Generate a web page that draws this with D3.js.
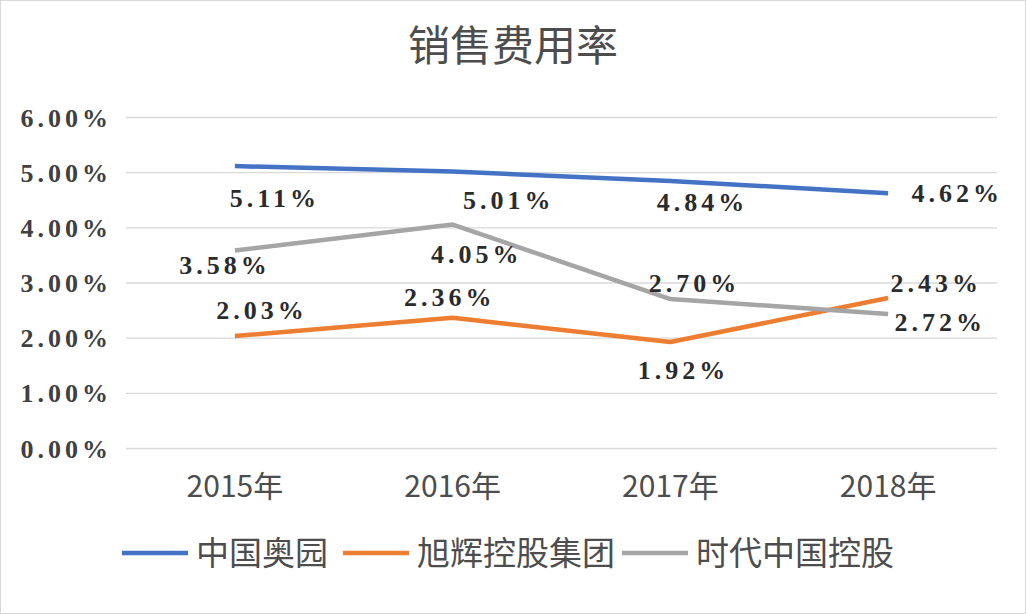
<!DOCTYPE html>
<html>
<head>
<meta charset="utf-8">
<script src="https://cdn.jsdelivr.net/npm/d3@7"></script>
<style>
    body { margin: 0; background: #fff; }
    svg text { font-family: "Liberation Serif", "DejaVu Serif", serif; }
</style>
</head>
<body>
<div id="chart"></div>
<script>
'use strict';

// chart values
const years = ["2015年", "2016年", "2017年", "2018年"];
const seriesNames = ["中国奥园", "旭辉控股集团", "时代中国控股"];
const aoyuan = [5.11, 5.01, 4.84, 4.62];
const cifi = [2.03, 2.36, 1.92, 2.72];
const times = [3.58, 4.05, 2.70, 2.43];
const yTicks = [0, 1, 2, 3, 4, 5, 6];

const colors = ["#4472C4", "#ED7D31", "#A5A5A5"];

// where each data label sits relative to its point (layout only)
const labelOffsets = [
    [[38, 32], [54, 28], [30, 21], [67, 0]],
    [[25, -26], [-5, -21], [11, 28], [50, 24]],
    [[-12, 14], [22, 29], [22, -16], [46, -31]]
];

const width = 1026, height = 614;
const margin = { top: 117, right: 29, bottom: 166, left: 126 };

const svg = d3.select("#chart")
    .append("svg")
    .attr("width", width)
    .attr("height", height);

svg.append("rect")
    .attr("x", 0.5).attr("y", 0.5)
    .attr("width", width - 1).attr("height", height - 1)
    .attr("fill", "#fff")
    .attr("stroke", "#d9d9d9");

// title
svg.append("text")
    .attr("x", 513)
    .attr("y", 61)
    .attr("text-anchor", "middle")
    .style("font-family", "'Noto Sans CJK SC', sans-serif")
    .style("font-size", "42px")
    .attr("fill", "#4d4d4d")
    .text("销售费用率");

const x = d3.scaleBand()
    .domain(years)
    .range([margin.left, width - margin.right]);

const y = d3.scaleLinear()
    .domain([0, 6])
    .range([height - margin.bottom, margin.top]);

// gridlines + y labels
const yAxis = svg.append("g")
    .attr("transform", "translate(" + margin.left + ",0)")
    .call(d3.axisLeft(y)
        .tickValues(yTicks)
        .tickSize(-(width - margin.left - margin.right))
        .tickPadding(14)
        .tickFormat(d => d3.format(".2f")(d) + "%"));

yAxis.select(".domain").remove();
yAxis.selectAll(".tick line").attr("stroke", "#d9d9d9").attr("stroke-width", 1.3);
yAxis.selectAll(".tick text")
    .attr("fill", "#404040")
    .style("font-size", "26px")
    .style("font-weight", "bold")
    .style("letter-spacing", "4px")
    .attr("dy", "0.35em");

// x labels
const xAxis = svg.append("g")
    .attr("transform", "translate(0," + (height - margin.bottom) + ")")
    .call(d3.axisBottom(x).tickSize(0).tickPadding(28));

xAxis.select(".domain").remove();
xAxis.selectAll(".tick text")
    .attr("fill", "#4d4d4d")
    .style("font-family", "'Noto Sans CJK SC', sans-serif")
    .style("font-size", "30px");

// lines
const allSeries = [aoyuan, cifi, times];
const line = d3.line()
    .x((d, i) => x(years[i]) + x.bandwidth() / 2)
    .y(d => y(d));

allSeries.forEach((values, s) => {
    svg.append("path")
        .datum(values)
        .attr("fill", "none")
        .attr("stroke", colors[s])
        .attr("stroke-width", 4.5)
        .attr("stroke-linejoin", "round")
        .attr("d", line);
});

// data labels
allSeries.forEach((values, s) => {
    svg.selectAll(".lbl" + s)
        .data(values)
        .enter()
        .append("text")
        .attr("class", "lbl" + s)
        .attr("x", (d, i) => x(years[i]) + x.bandwidth() / 2 + labelOffsets[s][i][0] + 2)
        .attr("y", (d, i) => y(d) + labelOffsets[s][i][1])
        .attr("dy", "0.35em")
        .attr("text-anchor", "middle")
        .attr("fill", "#2b2b2b")
        .style("font-size", "26px")
        .style("font-weight", "bold")
        .style("letter-spacing", "4px")
        .text(d => d3.format(".2f")(d) + "%");
});

// legend
const legendX = [122, 343, 622];
const legend = svg.append("g");
seriesNames.forEach((name, i) => {
    legend.append("line")
        .attr("x1", legendX[i]).attr("x2", legendX[i] + 66)
        .attr("y1", 553).attr("y2", 553)
        .attr("stroke", colors[i])
        .attr("stroke-width", 4.5);
    legend.append("text")
        .attr("x", legendX[i] + 74)
        .attr("y", 553)
        .attr("dy", "0.35em")
        .attr("fill", "#4d4d4d")
        .style("font-family", "'Noto Sans CJK SC', sans-serif")
        .style("font-size", "33px")
        .text(name);
});
</script>
</body>
</html>
